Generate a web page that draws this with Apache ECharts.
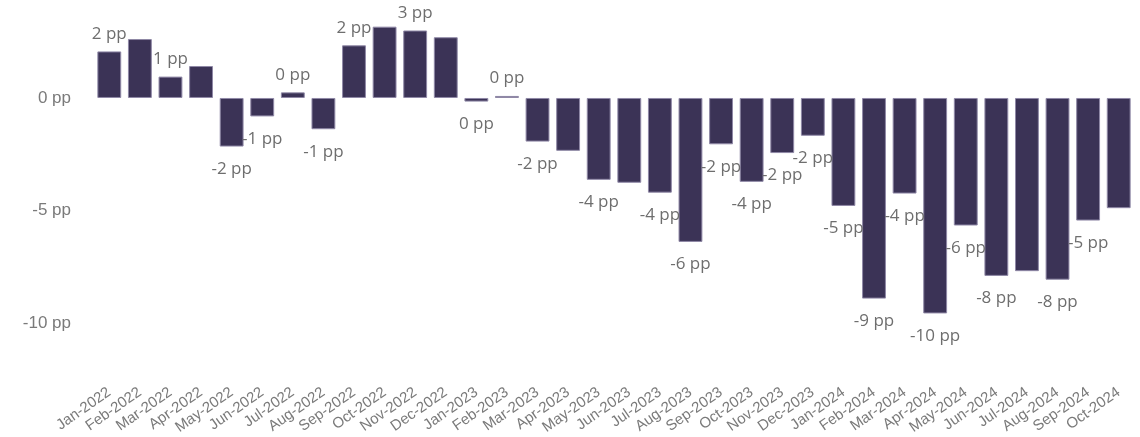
<!DOCTYPE html>
<html>
<head>
<meta charset="utf-8">
<script src="https://cdn.jsdelivr.net/npm/echarts@6/dist/echarts.min.js"></script>
<style>
  html, body { margin: 0; padding: 0; background: #ffffff; }
  #chart { width: 1140px; height: 437px; }
</style>
</head>
<body>
<div id="chart"></div>
<script>
// Monthly change, in percentage points
const months = [
  'Jan-2022', 'Feb-2022', 'Mar-2022', 'Apr-2022', 'May-2022', 'Jun-2022',
  'Jul-2022', 'Aug-2022', 'Sep-2022', 'Oct-2022', 'Nov-2022', 'Dec-2022',
  'Jan-2023', 'Feb-2023', 'Mar-2023', 'Apr-2023', 'May-2023', 'Jun-2023',
  'Jul-2023', 'Aug-2023', 'Sep-2023', 'Oct-2023', 'Nov-2023', 'Dec-2023',
  'Jan-2024', 'Feb-2024', 'Mar-2024', 'Apr-2024', 'May-2024', 'Jun-2024',
  'Jul-2024', 'Aug-2024', 'Sep-2024', 'Oct-2024'
];

const changePP = [
  2.07, 2.62, 0.95, 1.42, -2.16, -0.82,
  0.25, -1.39, 2.34, 3.17, 3.0, 2.7,
  -0.16, 0.09, -1.94, -2.35, -3.64, -3.77,
  -4.21, -6.4, -2.06, -3.73, -2.45, -1.68,
  -4.8, -8.92, -4.25, -9.58, -5.67, -7.91,
  -7.7, -8.08, -5.45, -4.9
];

// Months whose value label is left off (they would collide with a neighbour's)
const unlabelledMonths = [
  'Feb-2022', 'Apr-2022', 'Oct-2022', 'Dec-2022',
  'Apr-2023', 'Jun-2023', 'Jul-2024', 'Oct-2024'
];

const yTickLabels = [0, -5, -10];

const barData = changePP.map((v, i) => ({
  value: v,
  label: {
    show: !unlabelledMonths.includes(months[i]),
    position: v >= 0 ? 'top' : 'bottom',
    distance: v >= 0 ? 9 : 14
  }
}));

const chart = echarts.init(document.getElementById('chart'), null, { renderer: 'canvas' });

chart.setOption({
  animation: false,
  backgroundColor: '#ffffff',
  grid: { left: 94, right: 6, top: 8, bottom: 66, containLabel: false },
  xAxis: {
    type: 'category',
    data: months,
    axisLine: { show: false },
    axisTick: { show: false },
    axisLabel: {
      interval: 0,
      rotate: 35,
      margin: 23,
      color: '#7a7a7a',
      fontFamily: 'Liberation Sans',
      fontSize: 15
    }
  },
  yAxis: {
    type: 'value',
    min: -12,
    max: 4,
    interval: 1,
    splitLine: { show: false },
    axisLine: { show: false },
    axisTick: { show: false },
    axisLabel: {
      margin: 23,
      color: '#7a7a7a',
      fontFamily: 'Liberation Sans',
      fontSize: 17,
      formatter: v => (yTickLabels.includes(v) ? v + ' pp' : '')
    }
  },
  series: [{
    type: 'bar',
    data: barData,
    barCategoryGap: '22%',
    itemStyle: {
      color: '#3b3356',
      borderColor: '#8f88a6',
      borderWidth: 1
    },
    label: {
      color: '#6e6e6e',
      fontFamily: 'Open Sans',
      fontSize: 17,
      formatter: p => Math.round(p.value) + ' pp'
    }
  }]
});
</script>
</body>
</html>
